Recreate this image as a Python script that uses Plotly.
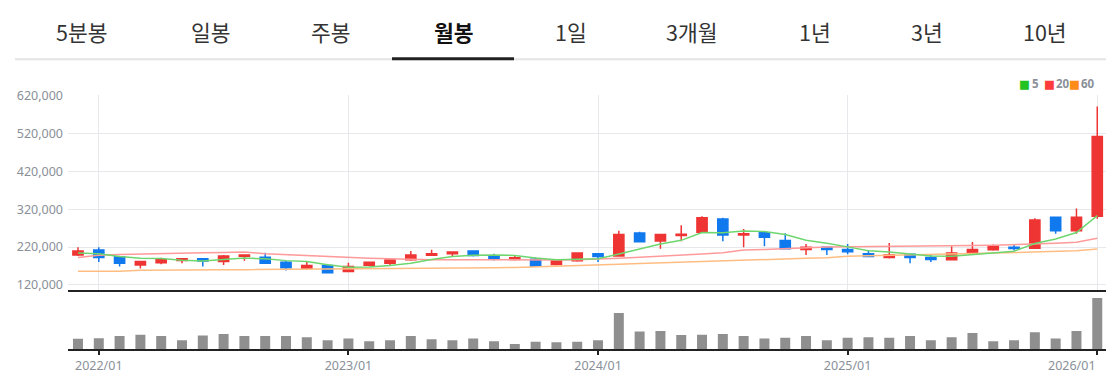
import plotly.graph_objects as go

W, H = 1118, 378

months = ["2021/12",
          "2022/01", "2022/02", "2022/03", "2022/04", "2022/05", "2022/06",
          "2022/07", "2022/08", "2022/09", "2022/10", "2022/11", "2022/12",
          "2023/01", "2023/02", "2023/03", "2023/04", "2023/05", "2023/06",
          "2023/07", "2023/08", "2023/09", "2023/10", "2023/11", "2023/12",
          "2024/01", "2024/02", "2024/03", "2024/04", "2024/05", "2024/06",
          "2024/07", "2024/08", "2024/09", "2024/10", "2024/11", "2024/12",
          "2025/01", "2025/02", "2025/03", "2025/04", "2025/05", "2025/06",
          "2025/07", "2025/08", "2025/09", "2025/10", "2025/11", "2025/12",
          "2026/01"]

opens = [199200,
         212000, 194100, 172800, 178800, 184700, 189000,
         182200, 195800, 193300, 179600, 164300, 171100,
         155800, 172000, 177100, 186400, 198400, 202600,
         209400, 195000, 187300, 188100, 173700, 183900,
         202600, 196700, 257100, 235800, 250300, 258800,
         293800, 252000, 258000, 237500, 213700, 219700,
         213700, 202600, 192400, 200900, 192400, 186400,
         204300, 212800, 219700, 217100, 298900, 263100,
         301400]
highs = [219700,
         219700, 196700, 183900, 191600, 189000, 189000,
         199200, 199200, 205200, 183900, 181300, 173700,
         178800, 181300, 187300, 209400, 212800, 208600,
         211100, 202600, 196700, 192400, 187300, 204300,
         202600, 263100, 260500, 254600, 277600, 301400,
         297200, 267400, 260500, 256300, 228200, 219700,
         228200, 212000, 230700, 202600, 199200, 222200,
         233300, 226500, 226500, 296300, 298900, 321900,
         591000]
lows = [196700,
        180500, 168600, 163400, 174500, 177100, 168600,
        172800, 183900, 175400, 158300, 160900, 151500,
        154900, 169400, 172000, 183900, 198400, 194100,
        195000, 184700, 184700, 168600, 171100, 181300,
        180500, 196700, 232400, 215400, 235000, 258800,
        235000, 219700, 222200, 215400, 199200, 199200,
        200900, 195000, 189800, 177100, 180500, 184700,
        202600, 210300, 211100, 216300, 255400, 255400,
        294600]
closes = [209400,
          192400, 177100, 182200, 186400, 189000, 183000,
          196700, 199200, 177100, 165100, 171100, 152400,
          168600, 179600, 185600, 199200, 202600, 206900,
          197500, 189800, 191600, 169400, 185600, 204300,
          195000, 252900, 234100, 252900, 253700, 297200,
          252000, 255400, 246100, 215400, 219700, 213700,
          207700, 195000, 199200, 192400, 187300, 204300,
          213700, 222200, 216300, 291200, 263100, 298900,
          511800]

ma5 = [204300,
       202500, 194900, 190700, 189500, 185400, 183500,
       187500, 190900, 189000, 184200, 181800, 173000,
       166900, 167400, 171500, 177100, 187100, 194800,
       198400, 199200, 197700, 191000, 186800, 188100,
       189200, 201400, 214400, 227800, 237700, 258200,
       258000, 262200, 260900, 253200, 237700, 230100,
       220500, 210300, 207100, 201600, 196300, 195600,
       199400, 204000, 208800, 229500, 241300, 258300,
       303000]
ma20 = [192400,
        198400, 200500, 202000, 203000, 204000, 204800,
        205800, 206900, 202600, 199800, 197500, 195000,
        192400, 190500, 189000, 187300, 186800, 186400,
        186000, 185600, 185600, 185600, 186000, 186800,
        188100, 190500, 193000, 195500, 198000, 201500,
        205000, 212000, 213700, 216300, 218000, 220000,
        221000, 221400, 221400, 221400, 221800, 222800,
        223900, 225000, 226300, 228200, 230000, 232400,
        243500]
ma60 = [156000,
        156000, 156200, 158500, 159300, 159500, 159700,
        160000, 160300, 160600, 160900, 161300, 161700,
        161500, 162000, 162500, 163000, 163500, 164000,
        164500, 165200, 166200, 167500, 169000, 170800,
        172500, 174500, 176500, 178500, 180500, 182500,
        184500, 186000, 187500, 189000, 190500, 192000,
        195500, 197000, 198500, 199500, 200500, 201500,
        203000, 204000, 205000, 206500, 208000, 210000,
        215000]
volumes = [300,
           320, 380, 420, 380, 260, 400,
           440, 380, 380, 380, 350, 260,
           310, 230, 260, 380, 290, 260,
           310, 230, 150, 220, 200, 220,
           260, 1050, 510, 530, 410, 420,
           440, 380, 310, 330, 380, 260,
           330, 350, 330, 380, 260, 350,
           470, 230, 260, 490, 310, 530,
           1480]

price_ticks = [120000, 220000, 320000, 420000, 520000, 620000]
price_labels = ["120,000", "220,000", "320,000", "420,000", "520,000", "620,000"]
year_ticks = ["2022/01", "2023/01", "2024/01", "2025/01", "2026/01"]

tabs = ["5분봉", "일봉", "주봉", "월봉", "1일", "3개월", "1년", "3년", "10년"]
tab_x = [82, 211, 331, 454, 571, 692, 815, 927, 1045]
active_tab = "월봉"

legend_names = ["5", "20", "60"]

RED = "#ef3434"
BLUE = "#1179ee"
GRAY_BAR = "#8f8f8f"
GRID = "#e6e8eb"
TXT = "#8a9099"
MA_COLORS = ["#6fd66f", "#ff9a9a", "#ffbd82"]
LEG_COLORS = ["#22c222", "#ff3b3b", "#ff8c1a"]

fig = go.Figure()

for vals, col in [(ma60, MA_COLORS[2]), (ma20, MA_COLORS[1]), (ma5, MA_COLORS[0])]:
    fig.add_trace(go.Scatter(x=months, y=vals, mode="lines",
                             line=dict(color=col, width=1.5),
                             xaxis="x", yaxis="y", hoverinfo="skip",
                             showlegend=False))

fig.add_trace(go.Candlestick(
    x=months, open=opens, high=highs, low=lows, close=closes,
    increasing=dict(line=dict(color=RED, width=1.5), fillcolor=RED),
    decreasing=dict(line=dict(color=BLUE, width=1.5), fillcolor=BLUE),
    whiskerwidth=0, xaxis="x", yaxis="y", showlegend=False))

fig.add_trace(go.Bar(x=months, y=volumes, marker=dict(color=GRAY_BAR, line=dict(width=0)),
                     width=0.48, xaxis="x2", yaxis="y2", showlegend=False))

x_dom = [68 / W, 1106 / W]
x_rng = [-0.48, 49.42]

def py(px):
    return 1 - px / H

# all but the last year label sit centred under their tick; the last one is right-aligned
axis_ticktext = year_ticks[:-1] + [""]

fig.update_layout(
    width=W, height=H, autosize=False,
    margin=dict(l=0, r=0, t=0, b=0),
    paper_bgcolor="white", plot_bgcolor="white",
    font=dict(family="Noto Sans", size=12.5, color=TXT),
    boxgap=0.3, boxgroupgap=0.3,
    xaxis=dict(type="category", domain=x_dom, range=x_rng, anchor="y",
               categoryorder="array", categoryarray=months,
               tickvals=year_ticks, showticklabels=False, ticks="",
               showgrid=True, gridcolor=GRID, gridwidth=1,
               showline=True, linecolor="#222222", linewidth=2,
               rangeslider=dict(visible=False), zeroline=False),
    yaxis=dict(domain=[py(290), py(89.3)], range=[107223, 620000], anchor="x",
               tickvals=price_ticks, ticktext=price_labels,
               showgrid=True, gridcolor=GRID, gridwidth=1, zeroline=False,
               showline=False, ticks="", ticklabelstandoff=4,
               tickfont=dict(size=12.5, color=TXT)),
    xaxis2=dict(type="category", domain=x_dom, range=x_rng, anchor="y2",
                categoryorder="array", categoryarray=months,
                tickvals=year_ticks, ticktext=axis_ticktext,
                ticks="outside", ticklen=4, tickwidth=2, tickcolor="#222222",
                showgrid=False, showline=True, linecolor="#222222", linewidth=2,
                zeroline=False, tickfont=dict(size=12.5, color=TXT)),
    yaxis2=dict(domain=[py(351.4), py(296)], range=[0, 1550], anchor="x2",
                visible=False, showgrid=False, zeroline=False),
    showlegend=False,
)

ann = []
for name, xc in zip(tabs, tab_x):
    active = name == active_tab
    ann.append(dict(text=("<b>%s</b>" % name) if active else name,
                    x=xc / W, y=py(23.5), xref="paper", yref="paper",
                    xanchor="center", yanchor="middle", showarrow=False,
                    font=dict(family="Noto Sans CJK KR", size=21.5,
                              color="#111111" if active else "#333333")))

sq_x = [1024.5, 1049.5, 1074.5]
lab_x = [1031, 1055, 1080]
for name, c, sx, lx in zip(legend_names, LEG_COLORS, sq_x, lab_x):
    ann.append(dict(text="■", x=sx / W, y=py(77), xref="paper", yref="paper",
                    xanchor="center", yanchor="middle", showarrow=False,
                    borderpad=0,
                    font=dict(family="DejaVu Sans", size=11.5, color=c)))
    ann.append(dict(text="<b>%s</b>" % name, x=lx / W, y=py(77), xref="paper", yref="paper",
                    xanchor="left", yanchor="middle", showarrow=False,
                    borderpad=0,
                    font=dict(family="Noto Sans", size=11.5, color=TXT)))

ann.append(dict(text=year_ticks[-1], x=year_ticks[-1], xref="x2",
                y=py(358), yref="paper", xanchor="right", yanchor="top",
                showarrow=False, borderpad=0,
                font=dict(family="Noto Sans", size=12.5, color=TXT)))
fig.update_layout(annotations=ann)

fig.update_layout(shapes=[
    dict(type="line", xref="paper", yref="paper", x0=15 / W, x1=1106 / W,
         y0=py(52), y1=py(52), line=dict(color="#e4e4e4", width=2)),
    dict(type="line", xref="paper", yref="paper", x0=392 / W, x1=514 / W,
         y0=py(51.5), y1=py(51.5), line=dict(color="#222222", width=3)),
])

fig.write_html(
    "out.html",
    config={"displayModeBar": False, "responsive": False},
    post_script="document.body.style.margin='0';document.body.style.padding='0';"
                "document.body.style.overflow='hidden';"
                "document.documentElement.style.overflow='hidden';",
)
